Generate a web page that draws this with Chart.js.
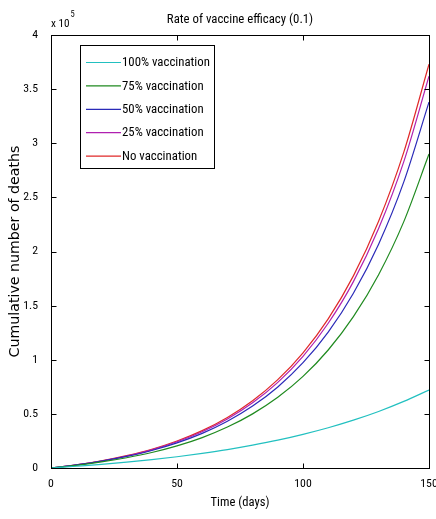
<!DOCTYPE html>
<html><head><meta charset="utf-8">
<script src="https://cdn.jsdelivr.net/npm/chart.js@4/dist/chart.umd.min.js"></script>
<style>html,body{margin:0;padding:0;background:#fff;}</style>
</head><body>
<canvas id="c" width="436" height="519"></canvas>
<script>
// Time (days)
const days = [0, 10, 20, 30, 40, 50, 60, 70, 80, 90, 100, 110, 120, 130, 140, 150];
// Cumulative deaths, in units of 1e5
const vac100 = [0, 0.016, 0.033, 0.054, 0.077, 0.104, 0.135, 0.170, 0.211, 0.257, 0.311, 0.372, 0.442, 0.522, 0.615, 0.720];
const vac75  = [0, 0.025, 0.056, 0.095, 0.143, 0.204, 0.281, 0.378, 0.500, 0.653, 0.846, 1.090, 1.398, 1.786, 2.276, 2.900];
const vac50  = [0, 0.028, 0.063, 0.107, 0.162, 0.232, 0.320, 0.432, 0.572, 0.749, 0.973, 1.256, 1.615, 2.068, 2.643, 3.380];
const vac25  = [0, 0.028, 0.064, 0.110, 0.168, 0.242, 0.335, 0.453, 0.602, 0.791, 1.032, 1.337, 1.722, 2.212, 2.830, 3.620];
const vac0   = [0, 0.029, 0.066, 0.114, 0.173, 0.249, 0.345, 0.467, 0.621, 0.816, 1.064, 1.378, 1.775, 2.280, 2.918, 3.730];
const seriesNames = ['100% vaccination', '75% vaccination', '50% vaccination', '25% vaccination', 'No vaccination'];
const xTickValues = [0, 50, 100, 150];
const yTickValues = [0, 0.5, 1, 1.5, 2, 2.5, 3, 3.5, 4];
const titleText = 'Rate of vaccine efficacy (0.1)';
const xTitleText = 'Time (days)';
const yTitleText = 'Cumulative number of deaths';

const seriesValues = [vac100, vac75, vac50, vac25, vac0];
const colors = ['#22c0c0', '#1f8a1f', '#2a2ab8', '#b020b0', '#e02828'];
const NARROW = "'Roboto Condensed', 'DejaVu Sans Condensed', sans-serif";
const WIDE = "'DejaVu Sans', sans-serif";

// choose font sizes so that text widths match the reference
const mctx = document.createElement('canvas').getContext('2d');
function fitSize(text, family, targetWidth) {
  mctx.font = '20px ' + family;
  const w = mctx.measureText(text).width;
  return Math.round(20 * targetWidth / w * 10) / 10;
}
const legendSize = fitSize('100% vaccination', NARROW, 88);
const titleSize = fitSize(titleText, NARROW, 146);
const xTitleSize = fitSize(xTitleText, NARROW, 59);
const tickSize = fitSize('100', NARROW, 17.5);
const yTitleSize = fitSize(yTitleText, WIDE, 212);

const framePlugin = {
  id: 'frame',
  afterDatasetsDraw(chart) {
    const {ctx, chartArea: a, scales} = chart;
    ctx.save();
    ctx.strokeStyle = '#000';
    ctx.lineWidth = 1;
    const L = Math.round(a.left) + 0.5, R = Math.round(a.right) + 0.5;
    const T = Math.round(a.top) + 0.5, B = Math.round(a.bottom) + 0.5;
    ctx.strokeRect(L, T, R - L, B - T);
    const tl = 5;
    ctx.beginPath();
    scales.x.ticks.forEach(t => {
      const px = Math.round(scales.x.getPixelForValue(t.value)) + 0.5;
      ctx.moveTo(px, B); ctx.lineTo(px, B - tl);
      ctx.moveTo(px, T); ctx.lineTo(px, T + tl);
    });
    scales.y.ticks.forEach(t => {
      const py = Math.round(scales.y.getPixelForValue(t.value)) + 0.5;
      ctx.moveTo(L, py); ctx.lineTo(L + tl, py);
      ctx.moveTo(R, py); ctx.lineTo(R - tl, py);
    });
    ctx.stroke();
    // exponent label
    ctx.fillStyle = '#000';
    ctx.textBaseline = 'alphabetic';
    ctx.textAlign = 'left';
    ctx.font = (tickSize * 0.95) + 'px ' + NARROW;
    ctx.fillText('x 10', a.left, 27);
    const w10 = ctx.measureText('x 10').width;
    ctx.font = (tickSize * 0.72) + 'px ' + NARROW;
    ctx.fillText('5', a.left + w10 + 1, 17);

    // legend
    const bx = 80.5, by = 45.5, bw = 134, bh = 123;
    ctx.fillStyle = '#fff';
    ctx.fillRect(bx, by, bw, bh);
    ctx.strokeStyle = '#000';
    ctx.strokeRect(bx, by, bw, bh);
    ctx.font = legendSize + 'px ' + NARROW;
    ctx.textBaseline = 'middle';
    chart.data.datasets.forEach((ds, i) => {
      const y = 62.5 + i * 23.4;
      ctx.strokeStyle = ds.borderColor;
      ctx.lineWidth = 1.2;
      ctx.beginPath();
      ctx.moveTo(86, y); ctx.lineTo(121, y);
      ctx.stroke();
      ctx.fillStyle = '#000';
      ctx.fillText(ds.label, 122, y + 0.5);
    });
    ctx.restore();
  }
};

new Chart(document.getElementById('c'), {
  type: 'line',
  data: {
    datasets: seriesNames.map((name, i) => ({
      label: name,
      data: days.map((d, j) => ({x: d, y: seriesValues[i][j]})),
      borderColor: colors[i],
      backgroundColor: colors[i],
      borderWidth: 1.2,
      pointRadius: 0,
      cubicInterpolationMode: 'monotone',
      fill: false
    }))
  },
  options: {
    responsive: false,
    animation: false,
    devicePixelRatio: 1,
    layout: {padding: {top: 0, right: 7, bottom: 0, left: 0}},
    plugins: {
      legend: {display: false},
      tooltip: {enabled: false},
      title: {
        display: true, text: titleText, fullSize: false,
        color: '#000', font: {family: NARROW, size: titleSize, weight: 'normal', lineHeight: 1.2},
        padding: {top: 19.5 - titleSize * 0.6, bottom: 35 - 19.5 - titleSize * 0.6}
      }
    },
    scales: {
      x: {
        type: 'linear', min: 0, max: 150,
        afterBuildTicks: s => { s.ticks = xTickValues.map(v => ({value: v})); },
        grid: {display: false}, border: {display: false},
        ticks: {color: '#000', font: {family: NARROW, size: tickSize}, padding: 1, maxRotation: 0, autoSkip: false,
                callback: v => String(v)},
        title: {display: true, text: xTitleText, color: '#000',
                font: {family: NARROW, size: xTitleSize, lineHeight: 1.2}, padding: {top: 0, bottom: 16 - xTitleSize * 0.6}},
        afterFit: s => { s.height = 51; s.paddingLeft = 0; s.paddingRight = 0; }
      },
      y: {
        type: 'linear', min: 0, max: 4,
        afterBuildTicks: s => { s.ticks = yTickValues.map(v => ({value: v})); },
        grid: {display: false}, border: {display: false},
        ticks: {color: '#000', font: {family: NARROW, size: tickSize}, padding: 5, autoSkip: false,
                callback: v => String(v)},
        title: {display: true, text: yTitleText, color: '#000',
                font: {family: WIDE, size: yTitleSize, lineHeight: 1.2}, padding: {top: 15.5 - yTitleSize * 0.6, bottom: 0}},
        afterFit: s => { s.width = 51; s.paddingTop = 0; s.paddingBottom = 0; }
      }
    }
  },
  plugins: [framePlugin]
});
</script>
</body></html>
